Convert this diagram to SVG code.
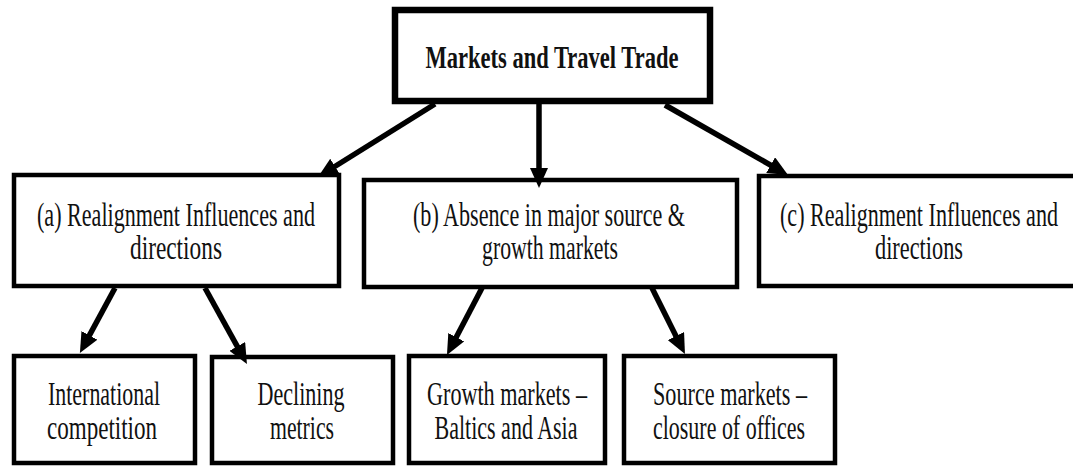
<svg xmlns="http://www.w3.org/2000/svg" width="1073" height="468" viewBox="0 0 1073 468">
  <defs>
    <style>
      .box { fill: #ffffff; stroke: #000000; stroke-width: 4.5; }
      .box.main { stroke-width: 6.5; }
      .lbl { font-family: "Liberation Serif", "Times New Roman", serif; font-size: 33px; fill: #111111; text-anchor: middle; }
      .title { font-weight: bold; font-size: 31px; }
      .link { stroke: #000000; stroke-width: 5.5; fill: none; marker-end: url(#head); }
    </style>
    <marker id="head" markerUnits="userSpaceOnUse" markerWidth="22" markerHeight="18" refX="4" refY="9" orient="auto">
      <path d="M0,0 L20,9 L0,18 z" fill="#000000"/>
    </marker>
  </defs>

  <rect width="1073" height="468" fill="#ffffff"/>

  <!-- root -->
  <g id="node-root">
    <rect class="box main" x="395" y="10" width="315" height="91"/>
    <text class="lbl title" x="552" y="68" textLength="253" lengthAdjust="spacingAndGlyphs">Markets and Travel Trade</text>
  </g>

  <!-- second level -->
  <g id="node-a">
    <rect class="box" x="14" y="175" width="325" height="111"/>
    <text class="lbl" x="176" y="226" textLength="278" lengthAdjust="spacingAndGlyphs">(a) Realignment Influences and</text>
    <text class="lbl" x="176" y="259" textLength="92" lengthAdjust="spacingAndGlyphs">directions</text>
  </g>
  <g id="node-b">
    <rect class="box" x="364" y="180" width="373" height="107"/>
    <text class="lbl" x="549" y="226" textLength="272" lengthAdjust="spacingAndGlyphs">(b) Absence in major source &amp;</text>
    <text class="lbl" x="550" y="259" textLength="136" lengthAdjust="spacingAndGlyphs">growth markets</text>
  </g>
  <g id="node-c">
    <rect class="box" x="759" y="176" width="330" height="110"/>
    <text class="lbl" x="919" y="226" textLength="278" lengthAdjust="spacingAndGlyphs">(c) Realignment Influences and</text>
    <text class="lbl" x="919" y="259" textLength="88" lengthAdjust="spacingAndGlyphs">directions</text>
  </g>

  <!-- third level -->
  <g id="node-intl">
    <rect class="box" x="14" y="356" width="181" height="107"/>
    <text class="lbl" x="104" y="405" textLength="112" lengthAdjust="spacingAndGlyphs">International</text>
    <text class="lbl" x="102" y="439" textLength="110" lengthAdjust="spacingAndGlyphs">competition</text>
  </g>
  <g id="node-decl">
    <rect class="box" x="212" y="357" width="181" height="106"/>
    <text class="lbl" x="301" y="405" textLength="87" lengthAdjust="spacingAndGlyphs">Declining</text>
    <text class="lbl" x="302" y="439" textLength="64" lengthAdjust="spacingAndGlyphs">metrics</text>
  </g>
  <g id="node-growth">
    <rect class="box" x="409" y="356" width="196" height="107"/>
    <text class="lbl" x="507" y="405" textLength="160" lengthAdjust="spacingAndGlyphs">Growth markets –</text>
    <text class="lbl" x="506" y="439" textLength="143" lengthAdjust="spacingAndGlyphs">Baltics and Asia</text>
  </g>
  <g id="node-source">
    <rect class="box" x="624" y="356" width="211" height="107"/>
    <text class="lbl" x="730" y="405" textLength="154" lengthAdjust="spacingAndGlyphs">Source markets –</text>
    <text class="lbl" x="729" y="439" textLength="152" lengthAdjust="spacingAndGlyphs">closure of offices</text>
  </g>

  <!-- connectors -->
  <g id="connectors">
    <line class="link" x1="435" y1="104" x2="331.6" y2="168.5"/>
    <line class="link" x1="539" y1="104" x2="539" y2="172"/>
    <line class="link" x1="665" y1="105" x2="774.1" y2="167.1"/>
    <line class="link" x1="115" y1="288" x2="87.5" y2="338.9"/>
    <line class="link" x1="205" y1="288" x2="239.2" y2="349.9"/>
    <line class="link" x1="482" y1="288" x2="454.4" y2="340.8"/>
    <line class="link" x1="652" y1="288" x2="677.8" y2="339.7"/>
  </g>
</svg>
